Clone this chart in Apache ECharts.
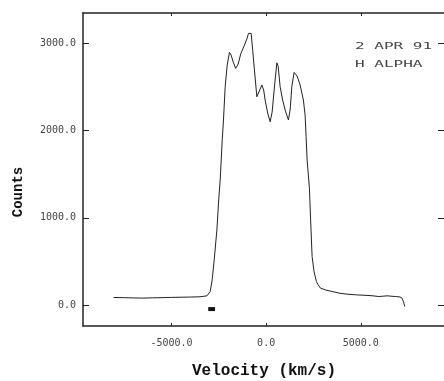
<!DOCTYPE html>
<html>
<head>
<meta charset="utf-8">
<script src="https://cdn.jsdelivr.net/npm/echarts@6/dist/echarts.min.js"></script>
<style>html,body{margin:0;padding:0;background:#fff}#c{width:444px;height:381px}</style>
</head>
<body>
<div id="c"></div>
<script>
const velocity = [-8063,-7500,-7000,-6500,-6000,-5500,-5000,-4500,-4000,-3500,-3130,-2957,-2851,-2746,-2603,-2508,-2429,-2320,-2255,-2165,-2059,-1938,-1848,-1742,-1610,-1478,-1346,-1146,-1003,-934,-792,-713,-618,-491,-396,-227,-132,-53,79,211,317,422,565,634,739,871,1003,1177,1267,1357,1478,1637,1795,1969,2059,2112,2165,2286,2350,2429,2534,2656,2746,2867,3115,3485,3907,4330,4715,5227,5597,5950,6389,6828,7075,7181,7260,7323];
const counts = [87,85,82,80,83,85,88,90,92,95,106,156,290,519,862,1206,1435,1900,2122,2504,2753,2898,2867,2787,2715,2764,2879,2982,3062,3116,3116,2924,2695,2389,2375,2524,2467,2352,2203,2103,2214,2466,2779,2741,2504,2352,2237,2123,2237,2504,2669,2627,2524,2352,2180,1931,1664,1344,977,557,381,270,233,195,175,156,135,124,118,112,107,98,106,98,93,80,38,-16];
const markVelocity = [-3060,-2700];
const markCounts = [-46,-46];
const yTicks = [0,1000,2000,3000];
const xTicks = [-5000,0,5000];
const xTitle = 'Velocity (km/s)';
const yTitle = 'Counts';
const noteLines = ['2 APR 91','H ALPHA'];

const lineData = velocity.map((v,i)=>[v,counts[i]]);
const markData = markVelocity.map((v,i)=>[v,markCounts[i]]);
const lbl = {fontFamily:'DejaVu Sans Mono',fontSize:10,color:'#444'};
const axisLine = {show:true,onZero:false,lineStyle:{color:'#222',width:1.5}};
const chart = echarts.init(document.getElementById('c'));
chart.setOption({
  animation:false,
  backgroundColor:'#fff',
  grid:{left:83,right:0,top:13,bottom:55},
  xAxis:[{
    type:'value',min:-9680,max:9400,position:'bottom',
    axisLine:axisLine,splitLine:{show:false},
    axisTick:{show:true,inside:true,length:3,customValues:xTicks,lineStyle:{color:'#222'}},
    axisLabel:Object.assign({customValues:xTicks,margin:12,formatter:v=>v.toFixed(1)},lbl)
  },{
    type:'value',min:-9680,max:9400,position:'top',
    axisLine:axisLine,splitLine:{show:false},
    axisTick:{show:true,inside:true,length:3,customValues:xTicks,lineStyle:{color:'#222'}},
    axisLabel:{show:false}
  }],
  yAxis:[{
    type:'value',min:-240,max:3350,position:'left',
    axisLine:axisLine,splitLine:{show:false},
    axisTick:{show:true,inside:true,length:6,customValues:yTicks,lineStyle:{color:'#222'}},
    axisLabel:Object.assign({customValues:yTicks,margin:7,formatter:v=>v.toFixed(1)},lbl)
  },{
    type:'value',min:-240,max:3350,position:'right',
    axisLine:{show:false,onZero:false},splitLine:{show:false},
    axisTick:{show:true,inside:true,length:6,customValues:yTicks,lineStyle:{color:'#222'}},
    axisLabel:{show:false}
  }],
  graphic:[
    {type:'text',x:264,y:371,style:{text:xTitle,fontFamily:'Liberation Mono',fontWeight:'bold',fontSize:16,fill:'#111',textAlign:'center',textVerticalAlign:'middle'}},
    {type:'text',x:18,y:192,rotation:Math.PI/2,style:{text:yTitle,fontFamily:'Liberation Mono',fontWeight:'bold',fontSize:14,fill:'#111',textAlign:'center',textVerticalAlign:'middle'}},
    {type:'text',x:355,y:47,scaleX:1.6,scaleY:0.85,style:{text:noteLines[0],fontFamily:'DejaVu Sans Mono',fontSize:10,fill:'#444',textAlign:'left',textVerticalAlign:'middle'}},
    {type:'text',x:355,y:64.5,scaleX:1.6,scaleY:0.85,style:{text:noteLines[1],fontFamily:'DejaVu Sans Mono',fontSize:10,fill:'#444',textAlign:'left',textVerticalAlign:'middle'}}
  ],
  series:[
    {type:'line',data:lineData,showSymbol:false,lineStyle:{color:'#222',width:1},silent:true},
    {type:'line',data:markData,showSymbol:false,lineStyle:{color:'#111',width:4},silent:true}
  ]
});
</script>
</body>
</html>
